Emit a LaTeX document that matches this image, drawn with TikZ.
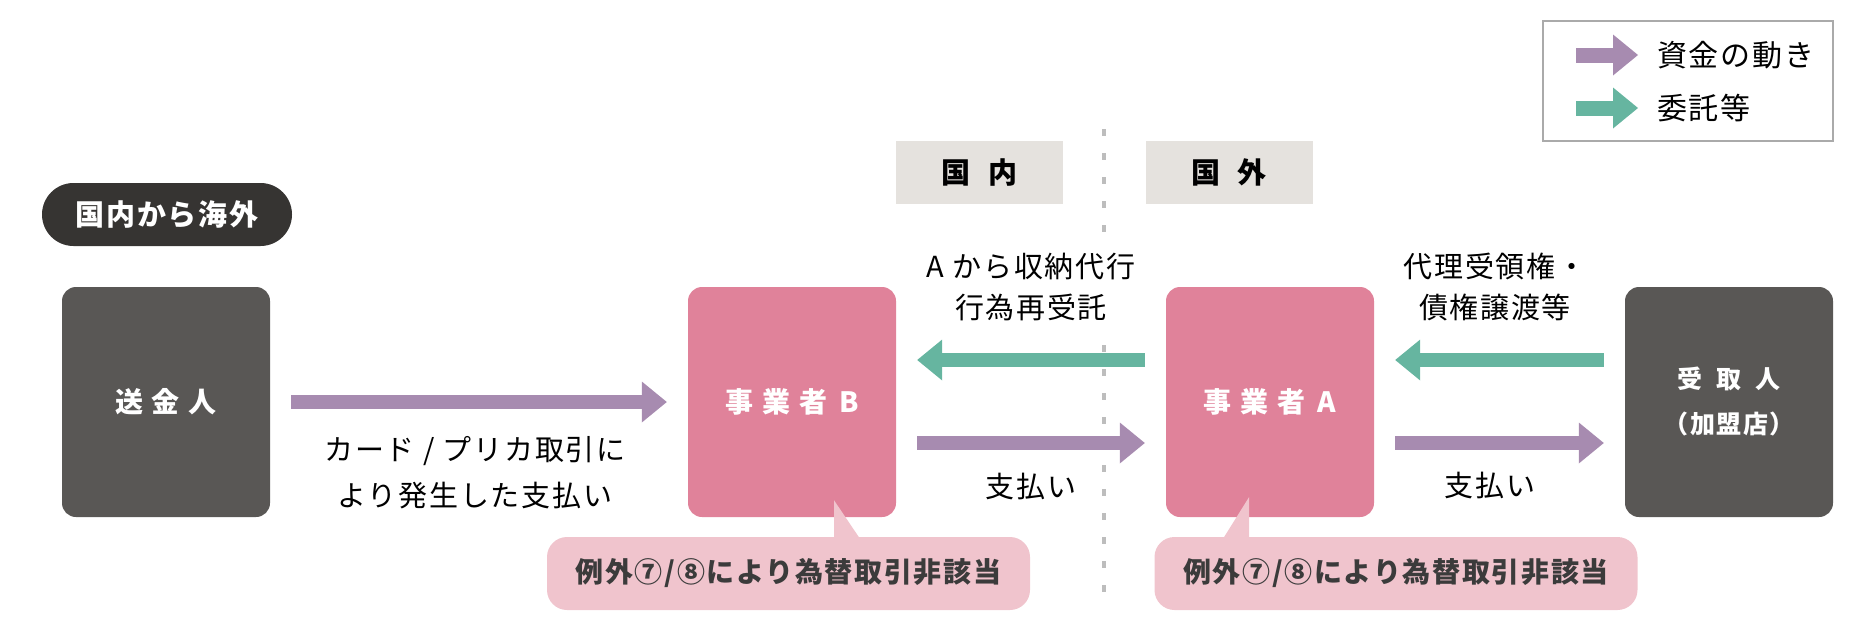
\documentclass[tikz,border=0pt]{standalone}
\usepackage{fontspec}
\setmainfont{Noto Sans CJK JP}[LetterSpace=6]
\usetikzlibrary{arrows.meta,positioning,calc}

\definecolor{partygray}{HTML}{595755}
\definecolor{pillgray}{HTML}{363432}
\definecolor{agentpink}{HTML}{E0829A}
\definecolor{notepink}{HTML}{F0C4CD}
\definecolor{tabgray}{HTML}{E5E2DE}
\definecolor{moneyviolet}{HTML}{A78BB0}
\definecolor{taskgreen}{HTML}{66B5A0}
\definecolor{bordergray}{HTML}{BDBDBD}
\definecolor{legendgray}{HTML}{AAAAAA}
\definecolor{inkgray}{HTML}{3B3B3B}

\begin{document}
\begin{tikzpicture}[x=1pt, y=-1pt,
        % define styles
        party/.style={
            fill=partygray, rounded corners=14pt,
            minimum width=208pt, minimum height=230pt, inner sep=0pt,
            text=white, align=center,
            font=\fontsize{28}{45}\selectfont\bfseries
        },
        agent/.style={party, fill=agentpink},
        tab/.style={
            fill=tabgray, minimum width=167pt, minimum height=63pt,
            font=\fontsize{29}{35}\selectfont\bfseries
        },
        pill/.style={
            fill=pillgray, rounded corners=31.5pt,
            minimum width=250pt, minimum height=63pt,
            text=white, font=\fontsize{29}{35}\selectfont\bfseries
        },
        note/.style={
            fill=notepink, rounded corners=20pt,
            minimum width=483pt, minimum height=73pt,
            text=inkgray, font=\fontsize{28}{34}\selectfont\bfseries
        },
        lbl/.style={align=center, inner sep=2pt, font=\fontsize{29}{41}\selectfont},
        money/.style={
            draw=moneyviolet, line width=14pt,
            -{Triangle[length=25pt, width=41pt, line width=0pt]},
            shorten <=21pt, shorten >=21pt
        },
        task/.style={money, draw=taskgreen},
        border/.style={draw=bordergray, line width=4pt, dash pattern=on 7pt off 17pt}
    ]
    \useasboundingbox (0,0) rectangle (1875,632);

    % border between home and abroad
    \coordinate (borderTop) at (1104,129);
    \coordinate (borderBot) at (1104,600);
    \draw[border] (borderTop) -- (borderBot);

    % headings
    \node[tab] (home) at (979.5,172.5) {国\hspace{18pt}内};
    \node[tab] (abroad) at (1229,172.5) {国\hspace{18pt}外};
    \node[pill] (route) at (167,214.5) {国内から海外};

    % parties
    \node[party] (sender) at (166,402) {送\hspace{9pt}金\hspace{9pt}人};
    \node[agent] (bizB) at (792,402) {事\hspace{9pt}業\hspace{9pt}者\hspace{12pt}B};
    \node[agent] (bizA) at (1270,402) {事\hspace{9pt}業\hspace{9pt}者\hspace{12pt}A};
    \node[party, font=\fontsize{25}{45}\selectfont\bfseries] (payee) at (1729,402)
        {受\hspace{14pt}取\hspace{14pt}人\\（加盟店）};

    % arrow labels
    \node[lbl, font=\fontsize{29}{46}\selectfont] (cardLbl) at (475,473)
        {カード / プリカ取引に\\より発生した支払い};
    \node[lbl, fill=white, inner xsep=4pt, inner ysep=18pt] (relayLbl) at (1031,287)
        {A から収納代行\\行為再受託};
    \node[lbl] (payLblB) at (1031,487) {支払い};
    \node[lbl] (claimLbl) at (1495,287) {代理受領権・\\債権譲渡等};
    \node[lbl] (payLblA) at (1490,486) {支払い};

    % flows between parties
    \draw[money] (sender) -- (bizB);
    \draw[task] ([yshift=42pt]bizA.west) -- ([yshift=42pt]bizB.east);
    \draw[money] ([yshift=-41pt]bizB.east) -- ([yshift=-41pt]bizA.west);
    \draw[task] ([yshift=42pt]payee.west) -- ([yshift=42pt]bizA.east);
    \draw[money] ([yshift=-41pt]bizA.east) -- ([yshift=-41pt]payee.west);

    % callouts under the agents
    \node[note] (noteB) at (788.5,573.5) {例外⑦/⑧により為替取引非該当};
    \node[note] (noteA) at (1396,573.5) {例外⑦/⑧により為替取引非該当};
    \coordinate (tipB) at ([xshift=42pt,yshift=17pt]bizB.south);
    \coordinate (tipA) at ([xshift=-21pt,yshift=20pt]bizA.south);
    \fill[notepink] (tipB) -- ($(tipB |- noteB.north)+(0,2)$) -- ($(tipB |- noteB.north)+(26,2)$) -- cycle;
    \fill[notepink] (tipA) -- ($(tipA |- noteA.north)+(0,2)$) -- ($(tipA |- noteA.north)+(-26,2)$) -- cycle;

    % legend
    \node[draw=legendgray, line width=2pt, minimum width=290pt, minimum height=120pt] (legend) at (1688,81) {};
    \coordinate (lgMoney) at (1576,55);
    \coordinate (lgTask) at (1576,108);
    \draw[money, line width=15pt, shorten <=0pt, shorten >=0pt] (lgMoney) -- ++(62,0);
    \draw[task, line width=15pt, shorten <=0pt, shorten >=0pt] (lgTask) -- ++(62,0);
    \node[lbl, anchor=west, inner sep=0pt, font=\fontsize{30}{36}\selectfont] (lgMoneyTxt) at (1657,55) {資金の動き};
    \node[lbl, anchor=west, inner sep=0pt, font=\fontsize{30}{36}\selectfont] (lgTaskTxt) at (1657,108) {委託等};
\end{tikzpicture}
\end{document}
